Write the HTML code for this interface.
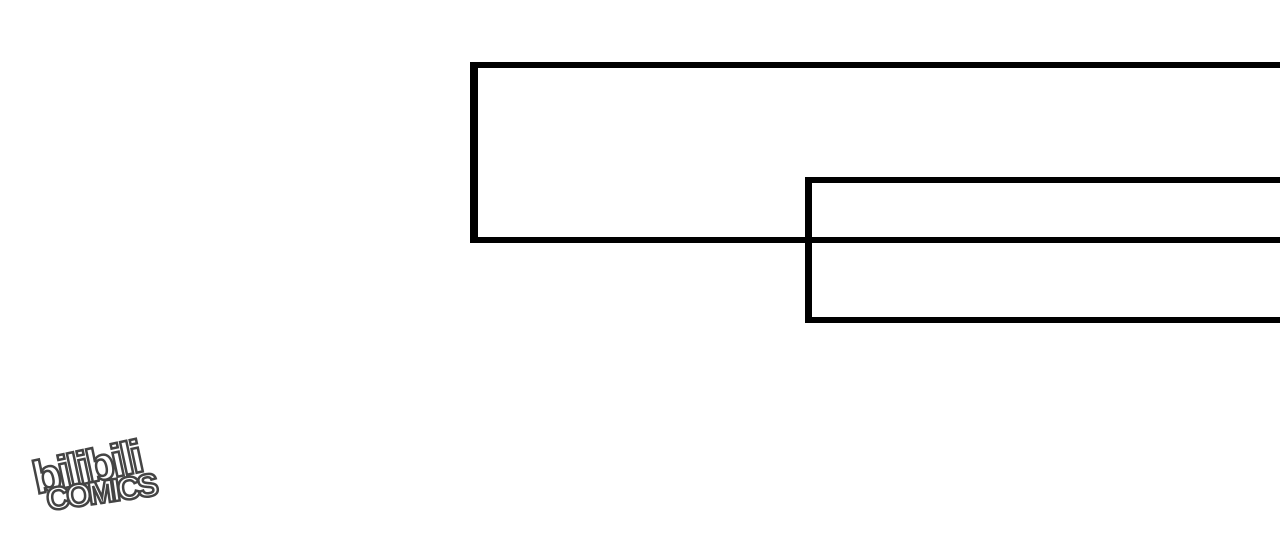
<!DOCTYPE html>
<html><head><meta charset="utf-8"><style>
html,body{margin:0;padding:0;background:#fff;width:1280px;height:542px;overflow:hidden;position:relative}
.r{position:absolute;box-sizing:border-box;border:solid #000}
.logo{position:absolute;font-family:"Liberation Sans",sans-serif;font-weight:bold;color:#fff;-webkit-text-stroke:2.5px #444;}
</style></head><body>
<div class="r" style="left:470px;top:62px;width:830px;height:181px;border-width:6px 0 6px 8px"></div>
<div class="r" style="left:805px;top:177px;width:500px;height:146px;border-width:6px 0 6px 7px"></div>
<div class="logo" style="left:32px;top:440px;font-size:46px;transform:rotate(-12deg);letter-spacing:-3px">bilibili</div>
<div class="logo" style="left:46px;top:474px;font-size:32px;transform:rotate(-8deg);letter-spacing:-3px">COMICS</div>
</body></html>
